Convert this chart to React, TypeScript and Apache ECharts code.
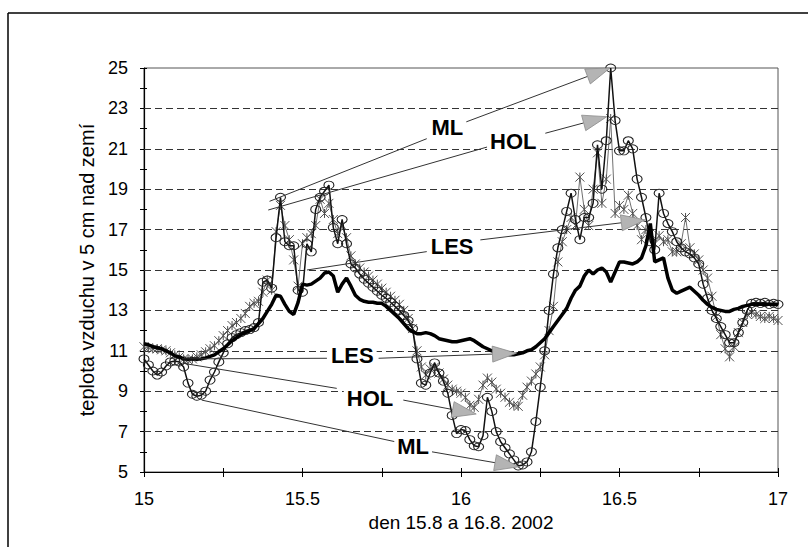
import React, { useEffect, useRef } from "react";
import * as echarts from "echarts";

// sampling: every 20 minutes from day 15.0 to day 17.0
const startDay = 15;
const stepDays = 1 / 72;

const mlValues = [
  10.6, 10.3, 10.0, 9.8, 9.95, 10.25, 10.45, 10.5, 10.45, 10.2,
  9.4, 8.85, 8.75, 8.8, 9.0, 9.55, 9.95, 10.45, 10.9, 11.35,
  11.65, 11.8, 11.9, 12.0, 12.05, 12.15, 12.4, 14.4, 14.5, 14.1,
  16.6, 18.6, 16.4, 16.2, 16.2, 14.0, 13.9, 16.3, 15.9, 18.0,
  18.6, 18.9, 19.2, 17.1, 16.3, 17.5, 16.3, 15.3, 15.1, 14.8,
  14.55, 14.35, 14.15, 13.95, 13.75, 13.6, 13.4, 13.2, 13.0, 12.75,
  12.5, 12.1, 10.6, 9.4, 9.3, 9.9, 10.4, 9.9, 9.5, 8.9,
  7.8, 6.9, 7.1, 7.05, 6.6, 6.3, 6.25, 6.8, 8.7, 8.0,
  7.0, 6.5, 6.2, 5.9, 5.6, 5.3, 5.35, 5.5, 6.0, 7.5,
  9.2, 11.0, 13.0, 14.8, 16.1, 17.0, 17.9, 18.8, 17.5, 16.5,
  17.6, 17.6, 18.3, 21.2, 19.0, 21.4, 25.0, 22.4, 20.9, 20.9,
  21.4, 21.0, 19.5, 18.6, 17.6, 16.4, 16.0, 18.8, 17.8, 17.3,
  16.9, 16.4, 16.1, 15.9, 15.8, 15.6, 15.3, 14.3, 13.6, 13.0,
  12.6, 12.2, 11.8, 11.4, 11.4, 11.9, 12.4, 13.0, 13.35, 13.4,
  13.35, 13.4, 13.3, 13.35, 13.3,
];

const holValues = [
  11.2, 11.15, 11.1, 11.1, 11.05, 11.0, 10.9, 10.8, 10.7, 10.6,
  10.55, 10.6, 10.7, 10.8, 10.95, 11.1, 11.25, 11.5, 11.75, 12.0,
  12.25, 12.4, 12.6, 12.85, 13.2, 13.35, 13.45, 13.9, 14.5, 14.0,
  16.9, 18.2, 17.2, 16.5, 15.5, 14.2, 16.3, 16.6, 16.8, 17.2,
  18.5, 17.8, 18.3, 17.5, 16.8, 17.2, 16.6, 15.7, 15.3, 15.1,
  14.9, 14.7, 14.5, 14.3, 14.1, 13.9, 13.7, 13.5, 13.3, 13.0,
  12.6, 12.1, 11.0, 10.2, 9.8, 10.1, 10.2, 9.9, 9.6, 9.3,
  9.1, 9.0, 8.9, 8.7, 8.3, 8.2, 8.6, 9.3, 9.65, 9.45,
  9.1, 8.9, 8.7, 8.45, 8.3, 8.25, 8.8, 9.2, 9.5, 9.85,
  10.2, 10.8, 12.0, 13.2, 15.4, 16.4, 17.0, 17.6, 17.2, 19.6,
  18.0, 17.2, 19.0, 20.8, 18.3, 19.5, 22.5, 17.8, 18.2, 18.0,
  18.7, 17.8, 17.2, 16.5, 17.0, 16.8, 16.3, 16.7, 16.4, 16.5,
  15.9, 15.9, 16.3, 17.6, 16.1, 15.8, 15.5, 15.0, 14.6, 13.7,
  12.7, 11.8, 11.1, 10.7, 11.2, 11.9, 12.4, 12.8, 12.9, 12.8,
  12.7, 12.6, 12.7, 12.6, 12.5,
];

const lesValues = [
  11.35, 11.3, 11.2, 11.15, 11.1, 11.0, 10.9, 10.75, 10.7, 10.6,
  10.58, 10.6, 10.58, 10.6, 10.65, 10.72, 10.8, 10.95, 11.1, 11.3,
  11.5, 11.65, 11.8, 11.9, 12.0, 12.1, 12.35, 12.6, 12.95, 13.3,
  13.75, 13.7, 13.3, 12.95, 12.8, 13.4, 14.3, 14.25, 14.3, 14.45,
  14.6, 14.85, 14.9, 14.7, 13.9, 14.3, 14.6, 14.2, 13.75, 13.55,
  13.45, 13.4, 13.4, 13.35, 13.35, 13.2, 13.0, 12.8, 12.6, 12.35,
  12.1, 11.95, 11.85, 11.85, 11.9, 11.85, 11.75, 11.6, 11.55, 11.5,
  11.45, 11.45, 11.5, 11.55, 11.6, 11.5, 11.35, 11.2, 11.1, 11.0,
  10.95, 10.9, 10.85, 10.8, 10.8, 10.85, 10.9, 11.0, 11.05, 11.2,
  11.4, 11.6, 11.9, 12.2, 12.5, 12.8, 13.1, 13.6, 14.0, 14.2,
  14.7, 15.0, 14.8, 15.0, 15.1, 14.9, 14.4, 14.9, 15.4, 15.4,
  15.35, 15.3, 15.4, 15.6, 16.2, 17.3, 15.4, 15.5, 15.6, 14.6,
  14.0, 13.85, 13.95, 14.05, 14.15, 13.95, 13.75, 13.5, 13.3, 13.15,
  13.05, 13.0, 12.95, 12.95, 13.05, 13.1, 13.2, 13.25, 13.3, 13.3,
  13.3, 13.3, 13.3, 13.3, 13.3,
];

const xTickLabels = ["15", "15.5", "16", "16.5", "17"];
const yTickLabels = ["5", "7", "9", "11", "13", "15", "17", "19", "21", "23", "25"];
const gridLineValues = [7, 9, 11, 13, 15, 17, 19, 21, 23];

const xAxisTitle = "den 15.8 a 16.8. 2002";
const yAxisTitle = "teplota vzduchu v 5 cm nad zemí";

// annotation labels: text, label centre, start point, line-1 end, line-2 start, arrow tip (data coords)
const annLabels = ["ML", "HOL", "LES", "LES", "HOL", "ML"];
const annCenters = [
  [15.957, 22.03], [16.165, 21.34], [15.972, 16.14],
  [15.657, 10.79], [15.713, 8.66], [15.849, 6.24],
];
const annStarts = [
  [15.396, 18.4], [15.392, 17.97], [15.514, 15.0],
  [15.12, 10.6], [15.124, 10.38], [15.182, 8.56],
];
const annLine1Ends = [
  [15.892, 21.5], [16.083, 21.09], [15.892, 15.91],
  [15.577, 10.63], [15.608, 9.14], [15.792, 6.5],
];
const annLine2Starts = [
  [16.016, 22.33], [16.266, 21.77], [16.061, 16.49],
  [15.74, 10.63], [15.818, 8.56], [15.908, 6.0],
];
const annTips = [
  [16.47, 25.0], [16.46, 22.59], [16.581, 17.48],
  [16.175, 10.88], [16.048, 7.87], [16.182, 5.26],
];

const FONT = 'Arial, "Liberation Sans", Helvetica, sans-serif';

function toPairs(values: number[]) {
  return values.map((v, i) => [startDay + i * stepDays, v]);
}

export default function App() {
  const ref = useRef<HTMLDivElement>(null);

  useEffect(() => {
    document.body.style.margin = "0";
    if (!ref.current) return;
    const chart = echarts.init(ref.current, null, { renderer: "svg" });

    const xLabelFmt = (v: number) => {
      const s = String(Math.round(v * 100) / 100);
      return xTickLabels.includes(s) ? s : "";
    };
    const yLabelFmt = (v: number) => {
      const s = String(Math.round(v));
      return yTickLabels.includes(s) ? s : "";
    };

    const baseX = {
      type: "value",
      min: 15,
      max: 17,
      interval: 0.25,
      position: "bottom",
      splitLine: { show: false },
    };
    const baseY = {
      type: "value",
      min: 5,
      max: 25,
      interval: 1,
      position: "left",
      splitLine: { show: false },
    };

    chart.setOption({
      animation: false,
      backgroundColor: "#ffffff",
      textStyle: { fontFamily: FONT },
      grid: {
        left: 144,
        right: 30,
        top: 68,
        bottom: 75,
        show: true,
        borderColor: "#555",
        borderWidth: 1,
        backgroundColor: "transparent",
      },
      xAxis: [
        {
          ...baseX,
          axisLine: { show: true, onZero: false, lineStyle: { color: "#000", width: 1.2 } },
          axisTick: { show: true, inside: false, length: 5, lineStyle: { color: "#000" } },
          axisLabel: { formatter: xLabelFmt, fontSize: 18, color: "#000", margin: 18, fontFamily: FONT },
          name: xAxisTitle,
          nameLocation: "middle",
          nameGap: 38,
          nameTextStyle: { fontSize: 19, color: "#000", fontFamily: FONT },
        },
        {
          ...baseX,
          axisLine: { show: false, onZero: false },
          axisTick: { show: true, inside: true, length: 4, lineStyle: { color: "#000" } },
          axisLabel: { show: false },
        },
      ],
      yAxis: [
        {
          ...baseY,
          axisLine: { show: true, onZero: false, lineStyle: { color: "#000", width: 1.2 } },
          axisTick: { show: true, inside: false, length: 4, lineStyle: { color: "#000" } },
          axisLabel: { formatter: yLabelFmt, fontSize: 18, color: "#000", margin: 16, fontFamily: FONT },
          name: yAxisTitle,
          nameLocation: "middle",
          nameGap: 44,
          nameTextStyle: { fontSize: 20, color: "#000", fontFamily: FONT },
        },
        {
          ...baseY,
          axisLine: { show: false, onZero: false },
          axisTick: { show: true, inside: true, length: 3, lineStyle: { color: "#000" } },
          axisLabel: { show: false },
        },
      ],
      series: [
        {
          name: "HOL",
          type: "line",
          xAxisIndex: 0,
          yAxisIndex: 0,
          data: toPairs(holValues),
          z: 2,
          symbol: "path://M0,0L10,10M10,0L0,10M5,0L5,10",
          symbolSize: 9,
          showAllSymbol: true,
          lineStyle: { color: "#707070", width: 1 },
          itemStyle: { color: "rgba(0,0,0,0)", borderColor: "#505050", borderWidth: 1 },
          markLine: {
            silent: true,
            z: 1,
            symbol: ["none", "none"],
            label: { show: false },
            lineStyle: { type: [7, 4], color: "#333", width: 1 },
            data: gridLineValues.map((v) => ({ yAxis: v })),
          },
        },
        {
          name: "ML",
          type: "line",
          xAxisIndex: 0,
          yAxisIndex: 0,
          data: toPairs(mlValues),
          z: 3,
          symbol: "circle",
          symbolSize: [10, 8],
          showAllSymbol: true,
          lineStyle: { color: "#111", width: 1.5 },
          itemStyle: { color: "rgba(255,255,255,0)", borderColor: "#222", borderWidth: 1 },
        },
        {
          name: "LES",
          type: "line",
          xAxisIndex: 0,
          yAxisIndex: 0,
          data: toPairs(lesValues),
          z: 4,
          symbol: "none",
          lineStyle: { color: "#000", width: 3.5 },
        },
      ],
    });

    const px = (p: number[]) =>
      chart.convertToPixel({ xAxisIndex: 0, yAxisIndex: 0 }, p) as number[];

    const graphics: any[] = [
      { type: "line", shape: { x1: 8, y1: 13, x2: 808, y2: 13 }, style: { stroke: "#000", lineWidth: 1.5 }, z: 10 },
      { type: "line", shape: { x1: 8, y1: 13, x2: 8, y2: 547 }, style: { stroke: "#000", lineWidth: 1.5 }, z: 10 },
    ];

    annLabels.forEach((label, k) => {
      const s = px(annStarts[k]);
      const e1 = px(annLine1Ends[k]);
      const s2 = px(annLine2Starts[k]);
      const tip = px(annTips[k]);
      const c = px(annCenters[k]);
      const dx = tip[0] - s2[0];
      const dy = tip[1] - s2[1];
      const len = Math.sqrt(dx * dx + dy * dy) || 1;
      const ux = dx / len;
      const uy = dy / len;
      const L = 24;
      const W = 8;
      const bx = tip[0] - ux * L;
      const by = tip[1] - uy * L;
      const nx = -uy;
      const ny = ux;
      graphics.push({
        type: "line",
        z: 20,
        shape: { x1: s[0], y1: s[1], x2: e1[0], y2: e1[1] },
        style: { stroke: "#333", lineWidth: 1 },
      });
      graphics.push({
        type: "line",
        z: 20,
        shape: { x1: s2[0], y1: s2[1], x2: bx, y2: by },
        style: { stroke: "#333", lineWidth: 1 },
      });
      graphics.push({
        type: "polygon",
        z: 21,
        shape: {
          points: [
            [tip[0], tip[1]],
            [bx + nx * W, by + ny * W],
            [bx - nx * W, by - ny * W],
          ],
        },
        style: { fill: "#b4b4b4", stroke: "#8a8a8a", lineWidth: 0.8 },
      });
      graphics.push({
        type: "text",
        z: 22,
        x: c[0],
        y: c[1],
        style: {
          text: label,
          font: `bold 22px ${FONT}`,
          fill: "#000",
          align: "center",
          verticalAlign: "middle",
          textAlign: "center",
          textVerticalAlign: "middle",
          backgroundColor: "#fff",
          padding: [0, 3],
        },
      });
    });

    chart.setOption({ graphic: graphics });

    return () => {
      chart.dispose();
    };
  }, []);

  return <div ref={ref} style={{ width: 808, height: 547 }} />;
}
